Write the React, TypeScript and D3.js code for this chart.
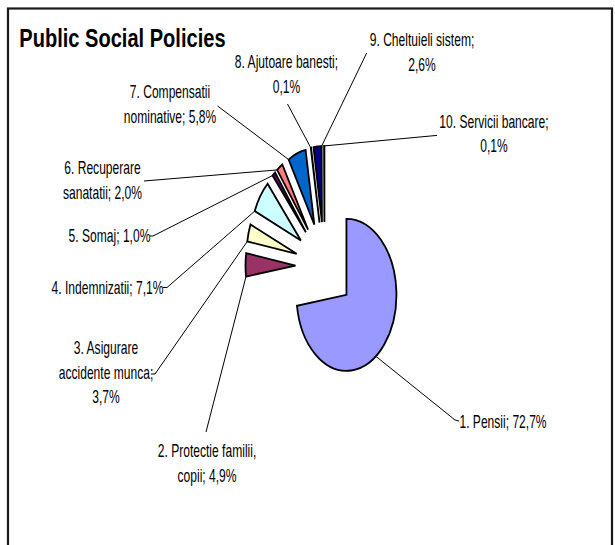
import React from "react";
import * as d3 from "d3";

// ---- data ----
const TITLE = "Public Social Policies";
const CATEGORIES = [
  "Pensii",
  "Protectie familii, copii",
  "Asigurare accidente munca",
  "Indemnizatii",
  "Somaj",
  "Recuperare sanatatii",
  "Compensatii nominative",
  "Ajutoare banesti",
  "Cheltuieli sistem",
  "Servicii bancare",
];
const VALUES = [72.7, 4.9, 3.7, 7.1, 1.0, 2.0, 5.8, 0.1, 2.6, 0.1];

// ---- styles / layout ----
const COLORS = [
  "#9999FF", "#993366", "#FFFFCC", "#CCFFFF", "#660066",
  "#FF8080", "#0066CC", "#CCCCFF", "#000080", "#E8E8E8",
];
const W = 615, H = 545;
const CX = 324.5, CY = 266, RX = 50, RY = 76, EXPLODE = 0.58;
const FONT = "'Liberation Sans', Arial, Helvetica, sans-serif";
const LABEL_SIZE = 17.5, LABEL_SX = 0.69, LINE_H = 24.5, BASE_OFF = 6.3;

type Lay = { x: number; y: number; lines: number[]; end: [number, number]; tail?: [number, number] };
const LAYOUT: Lay[] = [
  { x: 503, y: 422, lines: [3], end: [455, 420], tail: [459, 421] },
  { x: 207, y: 451, lines: [3, 2], end: [206, 432] },
  { x: 106, y: 348, lines: [2, 2, 1], end: [155, 374], tail: [151, 374] },
  { x: 107.5, y: 287.5, lines: [3], end: [167, 287.5], tail: [163, 287.5] },
  { x: 109.5, y: 236, lines: [3], end: [153, 236], tail: [150, 236] },
  { x: 102.5, y: 168, lines: [2, 2], end: [144, 181] },
  { x: 170, y: 92, lines: [2, 2], end: [217.6, 106] },
  { x: 286.5, y: 62, lines: [3, 1], end: [287.5, 104] },
  { x: 422, y: 40, lines: [3, 1], end: [366.7, 53] },
  { x: 494, y: 121.5, lines: [3, 1], end: [437, 135.4] },
];

const fmt = (v: number) => d3.format(".1f")(v).replace(".", ",") + "%";

export default function App() {
  const pie = d3.pie<number>().sort(null).value((d) => d);
  const arcs = pie(VALUES);
  const arcGen = d3.arc<d3.PieArcDatum<number>>().innerRadius(0).outerRadius(RY);
  const sx = RX / RY;

  const pt = (a: number, mid: number): [number, number] => [
    CX + EXPLODE * RX * Math.sin(mid) + RX * Math.sin(a),
    CY - EXPLODE * RY * Math.cos(mid) - RY * Math.cos(a),
  ];

  return (
    <svg
      width={W}
      height={H}
      style={{ position: "absolute", left: 0, top: 0, display: "block", background: "#fff" }}
    >
      <rect x={0} y={0} width={W} height={H} fill="#fff" />
      <rect x={8} y={8.5} width={604} height={600} fill="none" stroke="#1a1a1a" strokeWidth={2.2} />
      <text
        transform={`translate(19.3,46.7) scale(0.757,1)`}
        fontFamily={FONT}
        fontWeight="bold"
        fontSize={26.5}
        fill="#000"
      >
        {TITLE}
      </text>

      {arcs.map((a, i) => {
        const mid = (a.startAngle + a.endAngle) / 2;
        const dx = EXPLODE * RY * Math.sin(mid);
        const dy = -EXPLODE * RY * Math.cos(mid);
        return (
          <g key={"s" + i} transform={`translate(${CX},${CY}) scale(${sx},1) translate(${dx},${dy})`}>
            <path
              d={arcGen(a) || ""}
              fill={COLORS[i]}
              stroke="#000"
              strokeWidth={1.8}
              strokeLinejoin="miter"
              vectorEffect="non-scaling-stroke"
            />
          </g>
        );
      })}

      {arcs.map((a, i) => {
        const L = LAYOUT[i];
        const mid = (a.startAngle + a.endAngle) / 2;
        let best: [number, number] = pt(mid, mid);
        let bd = Infinity;
        const n = 60;
        for (let k = 0; k <= n; k++) {
          const ang = a.startAngle + ((a.endAngle - a.startAngle) * k) / n;
          const p = pt(ang, mid);
          const d = Math.hypot(p[0] - L.end[0], p[1] - L.end[1]);
          if (d < bd) { bd = d; best = p; }
        }
        const pts = [best, L.end];
        if (L.tail) pts.push(L.tail);
        return (
          <polyline
            key={"l" + i}
            points={pts.map((p) => p.join(",")).join(" ")}
            fill="none"
            stroke="#000"
            strokeWidth={1}
          />
        );
      })}

      {arcs.map((a, i) => {
        const L = LAYOUT[i];
        const words = `${i + 1}. ${CATEGORIES[i]}; ${fmt(VALUES[i])}`.split(" ");
        const lines: string[] = [];
        let idx = 0;
        L.lines.forEach((c) => {
          lines.push(words.slice(idx, idx + c).join(" "));
          idx += c;
        });
        return (
          <g key={"t" + i}>
            {lines.map((ln, k) => (
              <text
                key={k}
                transform={`translate(${L.x},${L.y + k * LINE_H + BASE_OFF}) scale(${LABEL_SX},1)`}
                textAnchor="middle"
                fontFamily={FONT}
                fontSize={LABEL_SIZE}
                fill="#000"
              >
                {ln}
              </text>
            ))}
          </g>
        );
      })}
    </svg>
  );
}
